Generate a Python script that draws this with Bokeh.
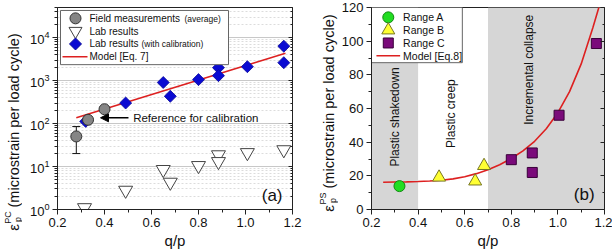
import math
from bokeh.plotting import figure
from bokeh.models import (Range1d, LinearScale, LinearAxis, LogAxis, FixedTicker, BoxAnnotation,
                          Label, Arrow, NormalHead, Whisker, TeeHead, ColumnDataSource,
                          NumeralTickFormatter, CustomJSTickFormatter)
from bokeh.layouts import row
from bokeh.embed import file_html
from bokeh.resources import INLINE
from bokeh.core.properties import value

FONT = "Liberation Sans"

# ---- (a) permanent strain rate vs stress ratio (log scale) ----
field_q = [0.28, 0.33, 0.40]
field_eps = [50, 122, 215]
field_lo = [20, 105, 190]
field_hi = [85, 140, 240]

lab_q = [0.315, 0.49, 0.65, 0.68, 0.80, 0.885, 0.885, 1.008, 1.163]
lab_eps = [1.1, 2.8, 8.5, 4.3, 10.5, 18.7, 13.0, 21.0, 24.5]

cal_q = [0.32, 0.49, 0.65, 0.68, 0.80, 0.885, 0.885, 1.008, 1.163, 1.163]
cal_eps = [112, 300, 900, 430, 1050, 1990, 1300, 2100, 6300, 2600]

model7_q = [0.28, 1.17]
model7_eps = [136, 4300]

ref_arrow_q = [0.502, 0.383]
ref_arrow_eps = 136

legend_a_labels = ["Field measurements", "Lab results", "Lab results", "Model [Eq. 7]"]
legend_a_notes = ["(average)", "", "(with calibration)", ""]

# ---- (b) permanent strain rate by response range (linear scale) ----
rangeA_q = [0.32]
rangeA_eps = [13.9]
rangeB_q = [0.49, 0.645, 0.683]
rangeB_eps = [19.1, 16.8, 26.0]
rangeC_q = [0.80, 0.89, 0.89, 1.005, 1.165]
rangeC_eps = [29.6, 33.6, 22.0, 56.0, 98.6]

model8_q = [0.25, 0.30, 0.35, 0.40, 0.45, 0.50, 0.55, 0.60, 0.65, 0.70, 0.75, 0.80, 0.85,
            0.90, 0.95, 1.00, 1.05, 1.10, 1.15, 1.18]
model8_eps = [16.2, 16.3, 16.4, 16.6, 16.9, 17.4, 18.2, 19.5, 21.3, 23.6, 26.6, 30.3, 34.8,
              40.5, 48.0, 57.5, 70.0, 86.5, 108.0, 122.0]

zone_edges = [0.2, 0.4, 0.7, 1.2]
zone_names = ["Plastic shakedown", "Plastic creep", "Incremental collapse"]
zone_label_q = [0.30, 0.54, 0.878]
zone_label_eps = [55, 57, 83]

legend_b_labels = ["Range A", "Range B", "Range C", "Model [Eq.8]"]

x_ticks = [0.2, 0.4, 0.6, 0.8, 1.0, 1.2]
x_minor = [0.3, 0.5, 0.7, 0.9, 1.1]
ya_ticks = [1, 10, 100, 1000, 10000]
ya_minor = [m * 10 ** d for d in range(0, 5) for m in range(2, 10) if m * 10 ** d <= 5e4]
yb_ticks = [0, 20, 40, 60, 80, 100, 120]
yb_minor = [10, 30, 50, 70, 90, 110]

RED = "#dd2020"
AXIS = "#222222"
TXT = "#111111"
H = 251
TOP, BOTTOM = 7, 39


def style_axes(p):
    for ax in p.xaxis + p.yaxis:
        ax.axis_line_color = AXIS
        ax.major_tick_line_color = AXIS
        ax.minor_tick_line_color = AXIS
        ax.major_tick_out = 5
        ax.major_tick_in = 0
        ax.minor_tick_out = 3
        ax.minor_tick_in = 0
        ax.major_label_text_font = FONT
        ax.major_label_text_font_size = "13px"
        ax.major_label_text_color = TXT
        ax.axis_label_text_font = FONT
        ax.axis_label_text_font_style = "normal"
        ax.axis_label_text_font_size = "15px"
        ax.axis_label_text_color = TXT
        ax.axis_label_standoff = 2
        ax.major_label_standoff = 3
    p.outline_line_color = AXIS
    p.outline_line_alpha = 1.0


def pixel_space(p, w, h):
    p.extra_x_ranges = {"px": Range1d(0, w)}
    p.extra_y_ranges = {"px": Range1d(0, h)}
    p.extra_x_scales = {"px": LinearScale()}
    p.extra_y_scales = {"px": LinearScale()}


def mirror_axis(p, axis_cls, ticker):
    ax = axis_cls(ticker=ticker, formatter=CustomJSTickFormatter(code="return ''"),
                  major_tick_in=4, major_tick_out=0, minor_tick_in=2, minor_tick_out=0,
                  major_label_standoff=0, major_label_text_font_size="1px",
                  axis_line_color=AXIS, major_tick_line_color=AXIS, minor_tick_line_color=AXIS)
    p.add_layout(ax, "right")


def ylabel_strip(w, x, y_bottom, sup, sub):
    """Narrow strip holding the rotated y-axis title eps_p^sup (microstrain per load cycle)."""
    f = figure(frame_width=w, frame_height=H, x_range=Range1d(0, w), y_range=Range1d(0, H),
               min_border=0, output_backend="svg", toolbar_location=None,
               x_axis_location=None, y_axis_location=None)
    f.outline_line_color = None
    f.xgrid.visible = False
    f.ygrid.visible = False
    common = dict(angle=math.pi / 2, text_font=value(FONT), text_color=TXT, text_baseline="middle")
    # screen y (from top) -> strip y (from bottom)
    f.text(x=[x], y=[H - y_bottom], text=["(microstrain per load cycle)"], text_align="left",
           text_font_size="14.5px", **common)
    f.text(x=[x], y=[H - (y_bottom + 20)], text=["\u03b5"], text_align="center",
           text_font_size="15px", **common)
    f.text(x=[x - 6], y=[H - (y_bottom + 10)], text=[sup], text_align="center",
           text_font_size="9px", **common)
    f.text(x=[x + 4.5], y=[H - (y_bottom + 12)], text=[sub], text_align="center",
           text_font_size="9px", **common)
    return f


# ================= panel (a) =================
FWA, FHA = 235, H - TOP - BOTTOM
pa = figure(width=35 + FWA + 13, height=H, x_range=Range1d(0.2, 1.2), y_range=Range1d(1, 5e4),
            y_axis_type="log", output_backend="svg", toolbar_location=None,
            min_border_left=35, min_border_right=13, min_border_top=TOP, min_border_bottom=BOTTOM)
pixel_space(pa, FWA, FHA)
pa.xaxis.ticker = FixedTicker(ticks=x_ticks, minor_ticks=x_minor)
pa.xaxis.formatter = NumeralTickFormatter(format="0.0")
pa.yaxis.ticker = FixedTicker(ticks=ya_ticks, minor_ticks=ya_minor)
pa.xaxis.axis_label = "q/p"
pa.xgrid.visible = False
pa.ygrid.ticker = FixedTicker(ticks=ya_ticks, minor_ticks=ya_minor)
pa.ygrid.grid_line_color = "#c8c8c8"
pa.ygrid.grid_line_width = 1
pa.ygrid.minor_grid_line_color = "#dcdcdc"
pa.ygrid.minor_grid_line_dash = "2 2"
style_axes(pa)
mirror_axis(pa, LogAxis, FixedTicker(ticks=ya_ticks, minor_ticks=ya_minor))

pa.line(model7_q, model7_eps, line_color=RED, line_width=1.6)
pa.scatter(lab_q, lab_eps, marker="inverted_triangle", size=14, fill_color="white",
           line_color="#444444", line_width=1)
pa.scatter(cal_q, cal_eps, marker="square", angle=math.pi / 4, size=8.5, fill_color="#0a0ad2",
           line_color="#0a0a9a", line_width=0.8)
pa.scatter(field_q, field_eps, marker="circle", size=11, fill_color="#858585",
           line_color="#333333", line_width=1)
field_src = ColumnDataSource(dict(q=field_q, lo=field_lo, hi=field_hi))
pa.add_layout(Whisker(source=field_src, base="q", lower="lo", upper="hi", dimension="height",
                      line_color=TXT, line_width=1,
                      upper_head=TeeHead(size=8, line_color=TXT),
                      lower_head=TeeHead(size=8, line_color=TXT)))
pa.add_layout(Arrow(x_start=ref_arrow_q[0], y_start=ref_arrow_eps, x_end=ref_arrow_q[1],
                    y_end=ref_arrow_eps, line_width=1.5, line_color="black",
                    end=NormalHead(size=8, fill_color="black", line_color="black")))
pa.add_layout(Label(x=0.522, y=ref_arrow_eps, text="Reference for calibration", text_font=FONT,
                    text_font_size="11.5px", text_baseline="middle", text_color=TXT))
pa.add_layout(Label(x=FWA - 10, y=14, x_range_name="px", y_range_name="px", text="(a)",
                    text_font=FONT, text_font_size="17px", text_align="right",
                    text_baseline="middle", text_color=TXT))

# legend (a)
pa.quad(left=[3], right=[171], bottom=[FHA - 58], top=[FHA - 3], x_range_name="px",
        y_range_name="px", fill_color="white", line_color="#666666", line_width=1)
rows_a = [FHA - 11, FHA - 24, FHA - 37, FHA - 50]
pa.scatter([18], [rows_a[0]], x_range_name="px", y_range_name="px", marker="circle", size=11,
           fill_color="#858585", line_color="#333333")
pa.scatter([18], [rows_a[1]], x_range_name="px", y_range_name="px", marker="inverted_triangle",
           size=13, fill_color="white", line_color="#444444")
pa.scatter([18], [rows_a[2]], x_range_name="px", y_range_name="px", marker="square",
           angle=math.pi / 4, size=8.5, fill_color="#0a0ad2", line_color="#0a0a9a")
pa.segment(x0=[5], y0=[rows_a[3]], x1=[30], y1=[rows_a[3]], x_range_name="px", y_range_name="px",
           line_color=RED, line_width=1.6)
for i, lab in enumerate(legend_a_labels):
    pa.text(x=[32], y=[rows_a[i]], text=[lab], x_range_name="px", y_range_name="px",
            text_font=value(FONT), text_font_size="10px", text_baseline="middle",
            text_color=TXT)
pa.text(x=[127], y=[rows_a[0] - 0.5], text=[legend_a_notes[0]], x_range_name="px",
        y_range_name="px", text_font=value(FONT), text_font_size="8.5px", text_baseline="middle",
        text_color=TXT)
pa.text(x=[84], y=[rows_a[2] - 0.5], text=[legend_a_notes[2]], x_range_name="px",
        y_range_name="px", text_font=value(FONT), text_font_size="8.5px", text_baseline="middle",
        text_color=TXT)

# ================= panel (b) =================
FWB, FHB = 236, H - TOP - BOTTOM
pb = figure(width=30 + FWB + 8, height=H, x_range=Range1d(0.2, 1.2), y_range=Range1d(0, 120),
            output_backend="svg", toolbar_location=None,
            min_border_left=30, min_border_right=8, min_border_top=TOP, min_border_bottom=BOTTOM)
pixel_space(pb, FWB, FHB)
pb.xaxis.ticker = FixedTicker(ticks=x_ticks, minor_ticks=x_minor)
pb.xaxis.formatter = NumeralTickFormatter(format="0.0")
pb.yaxis.ticker = FixedTicker(ticks=yb_ticks, minor_ticks=yb_minor)
pb.xaxis.axis_label = "q/p"
pb.grid.visible = False
style_axes(pb)
mirror_axis(pb, LinearAxis, FixedTicker(ticks=yb_ticks, minor_ticks=yb_minor))

for lo, hi in [(zone_edges[0], zone_edges[1]), (zone_edges[2], zone_edges[3])]:
    pb.add_layout(BoxAnnotation(left=lo, right=hi, fill_color="#d6d6d6", fill_alpha=1.0,
                                line_alpha=0, level="underlay"))
for name, zq, ze in zip(zone_names, zone_label_q, zone_label_eps):
    pb.text(x=[zq], y=[ze], text=[name], angle=math.pi / 2, text_align="center",
            text_baseline="middle", text_font=value(FONT), text_font_size="12px",
            text_color=TXT)

pb.line(model8_q, model8_eps, line_color=RED, line_width=1.6)
pb.scatter(rangeA_q, rangeA_eps, marker="circle", size=11, fill_color="#22dd22",
           line_color="#118811", line_width=1)
pb.scatter(rangeB_q, rangeB_eps, marker="triangle", size=13, fill_color="#ffff33",
           line_color="#777722", line_width=1)
pb.scatter(rangeC_q, rangeC_eps, marker="square", size=10, fill_color="#7a0a7a",
           line_color="#3a003a", line_width=1)
pb.add_layout(Label(x=FWB - 10, y=15, x_range_name="px", y_range_name="px", text="(b)",
                    text_font=FONT, text_font_size="17px", text_align="right",
                    text_baseline="middle", text_color=TXT))

# legend (b)
pb.quad(left=[0], right=[92], bottom=[FHB - 56], top=[FHB], x_range_name="px",
        y_range_name="px", fill_color="white", line_color="#666666", line_width=1)
rows_b = [FHB - 10, FHB - 23, FHB - 36, FHB - 49]
pb.scatter([17], [rows_b[0]], x_range_name="px", y_range_name="px", marker="circle", size=11,
           fill_color="#22dd22", line_color="#118811")
pb.scatter([17], [rows_b[1]], x_range_name="px", y_range_name="px", marker="triangle", size=13,
           fill_color="#ffff33", line_color="#777722")
pb.scatter([17], [rows_b[2]], x_range_name="px", y_range_name="px", marker="square", size=10,
           fill_color="#7a0a7a", line_color="#3a003a")
pb.segment(x0=[5], y0=[rows_b[3]], x1=[29], y1=[rows_b[3]], x_range_name="px", y_range_name="px",
           line_color=RED, line_width=1.6)
for i, lab in enumerate(legend_b_labels):
    pb.text(x=[32], y=[rows_b[i]], text=[lab], x_range_name="px", y_range_name="px",
            text_font=value(FONT), text_font_size="10.5px", text_baseline="middle",
            text_color=TXT)

ylab_a = ylabel_strip(22, 13, 200, "PC", "p")
ylab_b = ylabel_strip(33, 23, 181, "PS", "p")

layout = row(ylab_a, pa, ylab_b, pb)
open("out.html", "w").write(file_html(layout, INLINE))
